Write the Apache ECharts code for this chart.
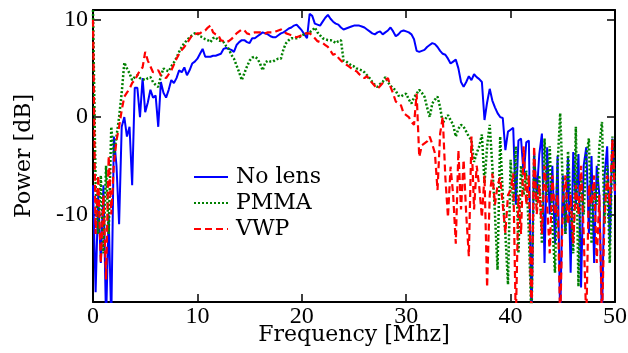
<!DOCTYPE html>
<html>
<head>
<meta charset="utf-8">
<script src="https://cdn.jsdelivr.net/npm/echarts@6/dist/echarts.min.js"></script>
<style>
  html, body { margin: 0; padding: 0; background: #fff; }
  #chart { width: 628px; height: 353px; }
</style>
</head>
<body>
<div id="chart"></div>
<script>
// sample spacing of the spectra, MHz (index i -> i * STEP)
const STEP = 0.25;
const xTicks = [0, 10, 20, 30, 40, 50];
const seriesNames = ["No lens", "PMMA", "VWP"];

// Power [dB], one row = 5 MHz
const noLens = [
  -7, -18, -8, -15, -7, -21, -10, -21, -2, -5, -11, -1, 0, -2, -1, -7, 3, 3, 0, 4,
  0.5, 1.5, 2.8, 2, 2.2, -1, 3.6, 2.5, 2, 2.8, 3.8, 3.5, 4, 4.8, 4.6, 5.1, 4.3, 4.8, 5.5, 5.7,
  6, 6.5, 7, 6.2, 6.2, 6.2, 6.3, 6.3, 6.4, 6.5, 7, 7.1, 7, 6.9, 6.7, 7.4, 7.7, 7.9, 7.9, 7.7,
  7.6, 8.1, 8.1, 8.3, 8.5, 8.7, 8.6, 8.5, 8.3, 8.2, 8.2, 8.4, 8.6, 8.7, 8.9, 9.1, 9.2, 9.4, 9.5, 9.2,
  8.9, 8.5, 8.1, 10.6, 10.4, 9.6, 9.5, 9.4, 9.8, 10.2, 10.5, 10.1, 9.8, 9.6, 9.5, 9.2, 9.0, 9.1, 9.2, 9.3,
  9.4, 9.4, 9.4, 9.3, 9.2, 9.0, 8.8, 8.6, 8.5, 8.7, 8.8, 8.5, 8.7, 8.9, 9.2, 8.8, 8.3, 8.5, 8.8, 8.9,
  8.8, 8.7, 8.5, 8.0, 6.8, 6.7, 6.8, 6.9, 7.2, 7.4, 7.6, 7.5, 7.2, 6.8, 6.5, 6.4, 6.0, 5.5, 5.7, 5.9,
  5.0, 3.6, 3.1, 3.6, 4.2, 3.8, 4.4, 4.1, 3.9, 3.6, -0.3, 1.5, 2.9, 1.7, 1.0, 0.4, 0.0, -0.1, -3.4, -1.5,
  -1.3, -1.1, -9, -2.4, -2.2, -6, -2.6, -2.4, -21, -3.6, -8, -3.8, -1.7, -15, -3.1, -10, -5, -13, -4, -21,
  -6, -12, -4, -16, -3.6, -9, -3.8, -17.5, -5, -3.1, -12, -4, -15, -5, -8, -21, -6, -3, -13, -2.2,
  -8
];

const pmma = [
  11, -7, -12, -6, -14, -5, -12, -1, -4, -2, 0, 2.5, 5.6, 5, 4.5, 3.8, 4.1, 4.3, 4.0, 3.9,
  3.8, 4.0, 4.1, 3.6, 3.3, 3.1, 4.2, 5.0, 4.8, 4.7, 5.2, 5.6, 6.1, 6.7, 7.2, 7.6, 7.9, 8.2, 8.4, 8.6,
  8.6, 8.3, 8.2, 8.0, 7.9, 7.7, 8.1, 8.2, 7.9, 7.8, 7.7, 7.3, 7.0, 6.4, 6.0, 5.3, 4.6, 3.8, 4.5, 5.2,
  5.8, 6.1, 6.2, 6.0, 5.5, 4.8, 5.6, 5.8, 5.7, 5.7, 5.9, 6.0, 6.0, 7.0, 7.6, 7.9, 8.1, 8.1, 8.1, 8.2,
  8.4, 8.5, 8.6, 8.7, 8.9, 9.2, 8.7, 8.4, 8.1, 8.0, 7.9, 7.9, 7.8, 7.6, 7.8, 7.9, 5.8, 5.7, 5.5, 5.3,
  5.2, 5.0, 4.9, 4.8, 4.6, 4.3, 4.0, 3.6, 3.3, 3.1, 3.4, 3.6, 4.1, 3.6, 3.2, 3.0, 2.7, 2.2, 2.1, 2.3,
  2.4, 1.8, 1.4, 2.0, 2.4, 2.8, 2.5, 2.1, 1.0, 0, 1.4, 1.8, 2.1, 1.0, -0.6, -0.2, 0.2, -0.3, -0.8, -2.0,
  -1.2, -0.8, -1.0, -1.5, -2.0, -2.4, -4.6, -3.7, -3.0, -1.8, -6.8, -3, -0.8, -5, -9.9, -15.7, -2, -8, -12, -17.2,
  -4.4, -9, -3, -14, -5, -8, -5.5, -12, -21, -4, -9, -6, -13, -2.2, -8, -3, -11, -16, -5, 0.4,
  -7, -12, -3.5, -9, -14, -1, -17.4, -6, -10, -4, -2.2, -13, -7, -9, -3, -0.5, -11, -5, -15, -2,
  -7
];

const vwp = [
  10, -12, -6, -15, -8, -16.7, -4, -10, -4.8, -2.4, -1, 0.7, 2.1, 2.5, 2.9, 3.5, 3.8, 4.3, 4.8, 5.1,
  6.7, 5.8, 5.2, 4.6, 4.7, 4.8, 4.3, 4.2, 4.0, 4.4, 4.8, 5.4, 6.0, 6.5, 6.9, 7.2, 7.6, 8.0, 8.4, 8.5,
  8.6, 8.6, 8.8, 8.9, 9.2, 9.4, 8.7, 8.5, 8.4, 7.9, 7.8, 7.7, 7.8, 8.0, 8.3, 8.6, 8.8, 9.0, 8.9, 8.6,
  8.5, 8.6, 8.7, 8.7, 8.7, 8.6, 8.6, 8.7, 8.7, 8.7, 8.8, 8.9, 9.0, 8.8, 8.6, 8.5, 8.4, 8.3, 8.2, 8.3,
  8.4, 8.6, 8.6, 8.6, 8.4, 8.1, 7.8, 7.7, 7.6, 7.4, 7.2, 6.8, 6.4, 6.5, 6.1, 5.8, 5.6, 5.4, 5.2, 5.0,
  4.8, 4.7, 4.4, 4.2, 4.0, 4.2, 3.8, 3.5, 3.2, 2.9, 3.2, 3.5, 3.8, 4.0, 3.1, 2.4, 1.6, 1.4, 1.2, 0.4,
  0.2, 0.0, -0.5, -0.8, 2.4, -4.1, -2.9, -2.7, -2.5, -2.0, -2.8, -3.7, -7.5, -1.7, 0, -6.2, -10.3, -5.1, -8, -13,
  -3.4, -9.5, -4.4, -10, -14.3, -2, -9.5, -5, -7.2, -10.3, -6, -17.5, -8, -5.8, -9, -7, -6.2, -9, -11.9, -8,
  -7.5, -5.8, -21, -8, -12, -3, -9, -6, -21, -3, -10, -7, -12, -5, -9, -14, -6, -10, -8, -21,
  -9, -6, -11, -8, -13, -7, -10, -5, -12, -21, -7, -9, -6, -15, -8, -21, -10, -6, -9, -2.3,
  -8
];

const pairs = (vals) => vals.map((v, i) => [i * STEP, v]);

const serif = "DejaVu Serif";
const numFont = "Liberation Serif";

const chart = echarts.init(document.getElementById("chart"), null, { renderer: "canvas" });

const frameAxis = {
  axisLine: { show: true, onZero: false, lineStyle: { color: "#000", width: 2 } },
  axisTick: { show: true, inside: true, length: 8, lineStyle: { color: "#000", width: 1.5 } },
  axisLabel: { show: false },
  splitLine: { show: false }
};

chart.setOption({
  animation: false,
  backgroundColor: "#fff",
  grid: { left: 93, right: 13, top: 10, bottom: 51, containLabel: false, outerBoundsMode: "none" },
  legend: {
    data: seriesNames,
    orient: "vertical",
    left: 193,
    top: 166,
    padding: 0,
    itemWidth: 34,
    itemHeight: 14,
    itemGap: 4,
    itemStyle: { opacity: 0 },
    textStyle: { fontFamily: serif, fontSize: 22, color: "#000", padding: [0, 0, 0, 3] }
  },
  xAxis: [
    {
      ...frameAxis,
      type: "value",
      min: 0,
      max: 50,
      interval: 10,
      name: "Frequency [Mhz]",
      nameLocation: "middle",
      nameGap: 22,
      nameMoveOverlap: false,
      nameTextStyle: { fontFamily: serif, fontSize: 22, color: "#000" },
      axisLabel: {
        show: true,
        margin: 3,
        color: "#000",
        fontFamily: numFont,
        fontSize: 24,
        formatter: (v) => (xTicks.includes(v) ? String(v) : "")
      }
    },
    { ...frameAxis, type: "value", position: "top", min: 0, max: 50, interval: 10 }
  ],
  yAxis: [
    {
      ...frameAxis,
      type: "value",
      min: -19,
      max: 11,
      splitNumber: 3,
      minInterval: 10,
      maxInterval: 10,
      name: "Power [dB]",
      nameLocation: "middle",
      nameGap: 58,
      nameMoveOverlap: false,
      nameTextStyle: { fontFamily: serif, fontSize: 22, color: "#000" },
      axisLabel: {
        show: true,
        margin: 5,
        color: "#000",
        fontFamily: numFont,
        fontSize: 24,
        formatter: (v) => (v % 10 === 0 ? String(v) : "")
      }
    },
    {
      ...frameAxis,
      type: "value",
      position: "right",
      min: -19,
      max: 11,
      splitNumber: 3,
      minInterval: 10,
      maxInterval: 10
    }
  ],
  series: [
    {
      name: seriesNames[0],
      type: "line",
      data: pairs(noLens),
      symbol: "none",
      showSymbol: false,
      lineStyle: { color: "#0000ff", width: 2, type: "solid" },
      itemStyle: { color: "#0000ff" }
    },
    {
      name: seriesNames[1],
      type: "line",
      data: pairs(pmma),
      symbol: "none",
      showSymbol: false,
      lineStyle: { color: "#008000", width: 2.5, type: [2, 2] },
      itemStyle: { color: "#008000" }
    },
    {
      name: seriesNames[2],
      type: "line",
      data: pairs(vwp),
      symbol: "none",
      showSymbol: false,
      lineStyle: { color: "#ff0000", width: 2.2, type: [7, 4] },
      itemStyle: { color: "#ff0000" }
    }
  ]
});
</script>
</body>
</html>
